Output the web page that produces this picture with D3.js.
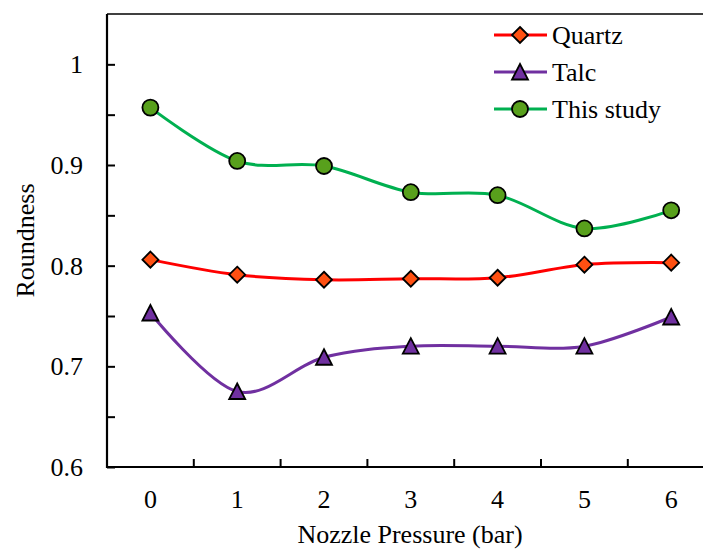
<!DOCTYPE html>
<html>
<head>
<meta charset="utf-8">
<script src="https://cdn.jsdelivr.net/npm/d3@7"></script>
<style>
  body { margin: 0; background: #fff; }
  text { font-family: "Liberation Serif", "Times New Roman", serif; fill: #000; }
</style>
</head>
<body>
<svg id="chart" width="703" height="550"></svg>
<script>
const categories = [0, 1, 2, 3, 4, 5, 6];
const quartz = [0.806, 0.791, 0.786, 0.787, 0.788, 0.801, 0.803];
const talc = [0.753, 0.675, 0.709, 0.720, 0.720, 0.720, 0.749];
const thisStudy = [0.957, 0.904, 0.899, 0.873, 0.870, 0.837, 0.855];
const yTicks = [0.6, 0.7, 0.8, 0.9, 1];
const yMinorTicks = [0.65, 0.75, 0.85, 0.95];
const seriesNames = ["Quartz", "Talc", "This study"];
const xTitle = "Nozzle Pressure (bar)";
const yTitle = "Roundness";

(function () {
const svg = d3.select("#chart");
const pLeft = 107, pTop = 14, pBottom = 467, pRight = 714.6;

const x = d3.scaleBand().domain(categories).range([pLeft, pRight]);
const y = d3.scaleLinear().domain([0.6, 1.05]).range([pBottom, pTop]);

const styles = [
  { line: "#FF0000", fill: "#FF5012", shape: "diamond" },
  { line: "#7030A0", fill: "#7030A0", shape: "triangle" },
  { line: "#00B050", fill: "#58A01C", shape: "circle" }
];
const allSeries = [quartz, talc, thisStudy];

function markerPath(shape) {
  if (shape === "diamond") return "M0,-8L8,0L0,8L-8,0Z";
  if (shape === "triangle") return "M0,-8L8,7.5L-8,7.5Z";
  return d3.arc()({innerRadius: 0, outerRadius: 8, startAngle: 0, endAngle: 2 * Math.PI});
}

// top border
svg.append("line").attr("x1", pLeft).attr("x2", 703).attr("y1", pTop).attr("y2", pTop)
  .attr("stroke", "#000").attr("stroke-width", 1.5);

// y axis
const yAxis = svg.append("g").attr("transform", `translate(${pLeft},0)`)
  .call(d3.axisRight(y).tickValues(yTicks).tickSize(8).tickFormat(""));
yAxis.select(".domain").remove();
yAxis.selectAll(".tick line").attr("stroke", "#000").attr("stroke-width", 2);
svg.append("g").attr("transform", `translate(${pLeft},0)`)
  .call(d3.axisRight(y).tickValues(yMinorTicks).tickSize(8).tickFormat(""))
  .call(g => g.select(".domain").remove())
  .selectAll(".tick line").attr("stroke", "#000").attr("stroke-width", 2);
svg.append("line").attr("x1", pLeft).attr("x2", pLeft).attr("y1", pTop).attr("y2", pBottom + 1)
  .attr("stroke", "#000").attr("stroke-width", 2.2);

svg.append("g").selectAll("text").data(yTicks).join("text")
  .attr("x", 83).attr("y", d => y(d) + 9)
  .attr("text-anchor", "end").attr("font-size", 26)
  .text(d => d3.format("")(d));

// x axis
const bandEdges = categories.slice(1).map(c => x(c));
svg.append("g").selectAll("line").data(bandEdges).join("line")
  .attr("x1", d => d).attr("x2", d => d).attr("y1", pBottom).attr("y2", pBottom - 8)
  .attr("stroke", "#000").attr("stroke-width", 2);
svg.append("line").attr("x1", pLeft - 1).attr("x2", 703).attr("y1", pBottom).attr("y2", pBottom)
  .attr("stroke", "#000").attr("stroke-width", 2.2);
svg.append("g").selectAll("text").data(categories).join("text")
  .attr("x", d => x(d) + x.bandwidth() / 2).attr("y", 508)
  .attr("text-anchor", "middle").attr("font-size", 26)
  .text(d => d);

// titles
svg.append("text").attr("x", 410).attr("y", 543).attr("text-anchor", "middle")
  .attr("font-size", 26).text(xTitle);
svg.append("text").attr("transform", `translate(34,${(pTop + pBottom) / 2}) rotate(-90)`)
  .attr("text-anchor", "middle").attr("font-size", 26).text(yTitle);

// series
const line = d3.line()
  .x((d, i) => x(categories[i]) + x.bandwidth() / 2)
  .y(d => y(d))
  .curve(d3.curveCatmullRom.alpha(0));

allSeries.forEach((s, k) => {
  const st = styles[k];
  svg.append("path").datum(s).attr("d", line)
    .attr("fill", "none").attr("stroke", st.line).attr("stroke-width", 3);
});
allSeries.forEach((s, k) => {
  const st = styles[k];
  svg.append("g").selectAll("path").data(s).join("path")
    .attr("transform", (d, i) => `translate(${x(categories[i]) + x.bandwidth() / 2},${y(d)})`)
    .attr("d", markerPath(st.shape))
    .attr("fill", st.fill).attr("stroke", "#000").attr("stroke-width", 1.8);
});

// legend
const legendY = [35, 72, 109];
seriesNames.forEach((name, k) => {
  const st = styles[k];
  const g = svg.append("g").attr("transform", `translate(0,${legendY[k]})`);
  g.append("line").attr("x1", 494).attr("x2", 547).attr("y1", 0).attr("y2", 0)
    .attr("stroke", st.line).attr("stroke-width", 3);
  g.append("path").attr("transform", "translate(520,0)").attr("d", markerPath(st.shape))
    .attr("fill", st.fill).attr("stroke", "#000").attr("stroke-width", 1.8);
  g.append("text").attr("x", 552).attr("y", 9).attr("font-size", 26).text(name);
});
})();
</script>
</body>
</html>
